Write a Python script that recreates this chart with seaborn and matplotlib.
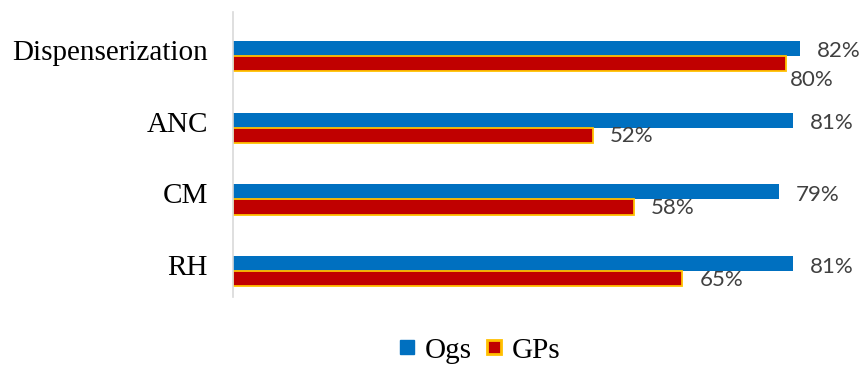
import matplotlib
matplotlib.use("Agg")
import matplotlib.pyplot as plt
import matplotlib.transforms as mtransforms
from matplotlib.lines import Line2D
import seaborn as sns
import pandas as pd

# Share of each service area, by provider group
categories = ["Dispenserization", "ANC", "CM", "RH"]
ogs_values = [0.82, 0.81, 0.79, 0.81]
gps_values = [0.80, 0.52, 0.58, 0.65]
series_names = ["Ogs", "GPs"]

BLUE = "#0070C0"
RED = "#C00000"
GOLD = "#FFC000"
LABEL_GREY = "#404040"

df = pd.DataFrame({
    "category": categories * 2,
    "value": ogs_values + gps_values,
    "series": [series_names[0]] * len(categories) + [series_names[1]] * len(categories),
})

sns.set_theme(style="white")
plt.rcParams["font.family"] = ["Liberation Serif", "DejaVu Serif"]
plt.rcParams["text.color"] = "black"

fig = plt.figure(figsize=(8.63, 3.65), dpi=100)
ax = fig.add_axes([0.27, 0.186, 0.721, 0.781])

sns.barplot(
    data=df, y="category", x="value", hue="series",
    order=categories, hue_order=series_names,
    palette=[BLUE, RED], orient="h", width=0.42,
    saturation=1, legend=False, ax=ax,
)

# Gold outline on the GPs bars
for patch in ax.containers[1]:
    patch.set_edgecolor(GOLD)
    patch.set_linewidth(1.3)
for patch in ax.containers[0]:
    patch.set_linewidth(0)

ax.set_xlim(0, 0.9)
ax.set_ylim(3.36, -0.61)
ax.set_xlabel("")
ax.set_ylabel("")
ax.set_xticks([])
for side in ["top", "right", "bottom"]:
    ax.spines[side].set_visible(False)
ax.spines["left"].set_color("#D9D9D9")
ax.spines["left"].set_linewidth(1.2)
ax.tick_params(axis="y", length=0, pad=18, labelsize=21, labelcolor="black")

# Lift the category names slightly above the group centre
lift = mtransforms.ScaledTranslation(0, 6 / 100, fig.dpi_scale_trans)
for lbl in ax.get_yticklabels():
    lbl.set_transform(lbl.get_transform() + lift)

# Value labels
label_font = dict(family=["Lato", "DejaVu Sans"], fontsize=16, color=LABEL_GREY)
for ogs_bar, gps_bar, ogs, gps in zip(ax.containers[0], ax.containers[1], ogs_values, gps_values):
    yo = ogs_bar.get_y() + ogs_bar.get_height() / 2
    yg = gps_bar.get_y() + gps_bar.get_height() / 2
    ax.annotate(f"{ogs:.0%}", xy=(ogs, yo), xytext=(17, -3), textcoords="offset pixels",
                ha="left", va="center", **label_font)
    if ogs - gps < 0.05:
        offset = (4, -17)
    else:
        offset = (17, -1)
    ax.annotate(f"{gps:.0%}", xy=(gps, yg), xytext=offset, textcoords="offset pixels",
                ha="left", va="center", **label_font)

handles = [
    Line2D([], [], marker="s", linestyle="none", markersize=10,
           markerfacecolor=BLUE, markeredgecolor=BLUE),
    Line2D([], [], marker="s", linestyle="none", markersize=9.5,
           markerfacecolor=RED, markeredgecolor=GOLD, markeredgewidth=2),
]
fig.legend(handles, series_names, loc="center", bbox_to_anchor=(0.552, 0.04),
           ncol=2, frameon=False, fontsize=21, handletextpad=0.1,
           columnspacing=0.25, handlelength=1.0, borderpad=0, labelcolor="black")

fig.savefig("out.png", dpi=100)
